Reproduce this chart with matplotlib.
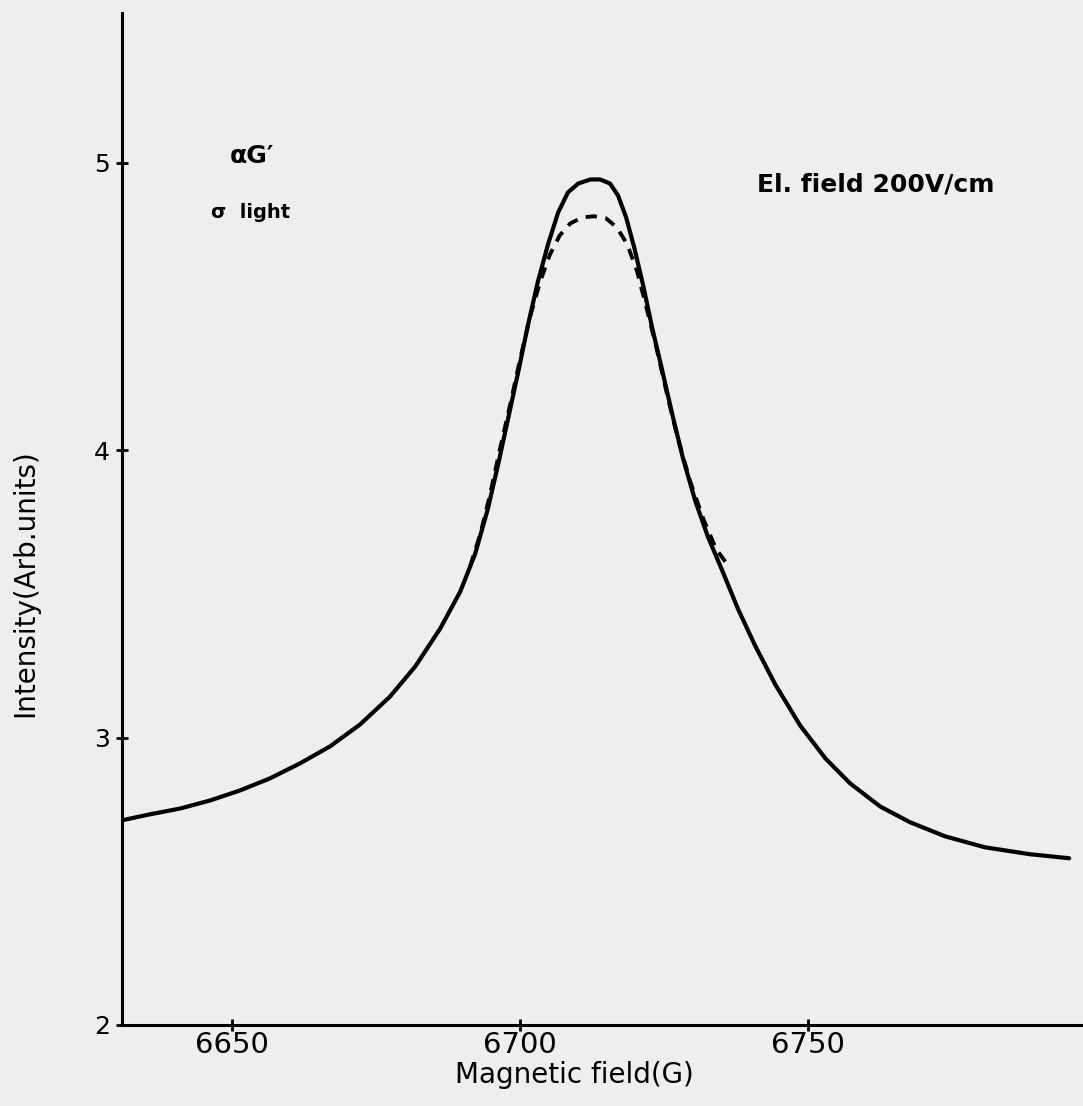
import numpy as np
from matplotlib import pyplot as plt

# Magnetic field (G) and intensity (arb. units), read point by point
field_solid = [6630.9, 6635.8, 6641.0, 6646.2, 6651.4, 6656.6, 6661.8, 6667.0,
               6672.2, 6677.4, 6681.8, 6686.1, 6689.6, 6692.2, 6694.4, 6696.2,
               6697.9, 6699.7, 6701.4, 6703.1, 6704.9, 6706.6, 6708.3, 6710.1,
               6712.2, 6713.9, 6715.6, 6717.0, 6718.4, 6719.8, 6721.4, 6722.9,
               6724.7, 6726.4, 6728.3, 6730.4, 6732.6, 6735.1, 6737.8, 6740.8,
               6744.3, 6748.6, 6753.0, 6757.3, 6762.5, 6767.7, 6773.8, 6780.7,
               6788.5, 6795.3]
intens_solid = [2.712, 2.733, 2.753, 2.781, 2.816, 2.858, 2.910, 2.969,
                3.045, 3.142, 3.247, 3.378, 3.507, 3.639, 3.795, 3.951,
                4.108, 4.274, 4.438, 4.587, 4.719, 4.826, 4.896, 4.927,
                4.941, 4.941, 4.927, 4.885, 4.809, 4.705, 4.569, 4.427,
                4.274, 4.125, 3.969, 3.823, 3.698, 3.580, 3.448, 3.319,
                3.184, 3.042, 2.927, 2.840, 2.760, 2.705, 2.656, 2.618,
                2.594, 2.580]

field_dash = [6691.3, 6693.1, 6694.8, 6696.5, 6698.3, 6700.0, 6701.7, 6703.5,
              6705.2, 6706.9, 6708.7, 6710.8, 6712.8, 6714.9, 6716.8, 6718.6,
              6720.3, 6722.0, 6723.8, 6725.5, 6727.4, 6729.5, 6731.8, 6734.0,
              6735.9]
intens_dash = [3.594, 3.708, 3.847, 4.003, 4.160, 4.316, 4.462, 4.587,
               4.681, 4.747, 4.788, 4.809, 4.813, 4.806, 4.774, 4.715,
               4.622, 4.490, 4.344, 4.194, 4.038, 3.892, 3.760, 3.656,
               3.604]

xticks = [6650, 6700, 6750]
yticks = [2, 3, 4, 5]

paper = '#eeeeee'

fig = plt.figure(figsize=(10.83, 11.06), dpi=100, facecolor=paper)
ax = fig.add_axes([122/1083, 1 - 1025/1106, (1083 - 122)/1083, (1025 - 13)/1106])
ax.set_facecolor(paper)

ax.plot(field_solid, intens_solid, color='black', lw=3.0,
        solid_capstyle='round', solid_joinstyle='round')
ax.plot(field_dash, intens_dash, color='black', lw=2.8, linestyle=(0, (2.9, 2.2)))

ax.set_xlim(6630.9, 6797.7)
ax.set_ylim(2.0, 5.52)

for side in ['top', 'right']:
    ax.spines[side].set_visible(False)
for side in ['left', 'bottom']:
    ax.spines[side].set_linewidth(2.2)

ax.set_xticks(xticks)
ax.set_yticks(yticks)
ax.tick_params(axis='x', direction='inout', length=9, width=2, labelsize=21, pad=0)
ax.tick_params(axis='y', direction='inout', length=9, width=2, labelsize=18, pad=4)

ax.set_xlabel('Magnetic field(G)', fontsize=20)
ax.xaxis.set_label_coords(0.471, -0.036)
ax.set_ylabel('Intensity(Arb.units)', fontsize=20)
ax.yaxis.set_label_coords(-0.086, 0.437)

ax.text(6653.5, 5.024, 'αG′', fontsize=18, fontweight='bold', ha='center', va='center')
ax.text(6653.3, 4.826, 'σ  light', fontsize=14, fontweight='bold', ha='center', va='center')
ax.text(6761.8, 4.923, 'El. field 200V/cm', fontsize=18, fontweight='bold',
        ha='center', va='center')

fig.savefig('out.png', dpi=100, facecolor=paper)
